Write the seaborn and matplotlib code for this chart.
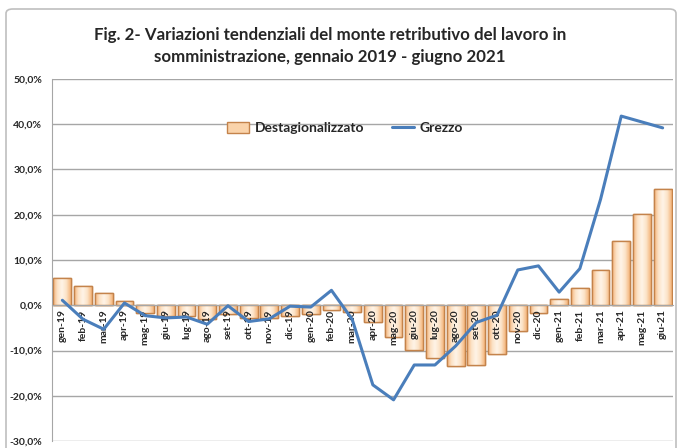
import matplotlib.pyplot as plt
import seaborn as sns
import pandas as pd
import numpy as np
from matplotlib.patches import Patch, FancyBboxPatch
from matplotlib.lines import Line2D
from matplotlib.ticker import FuncFormatter
from matplotlib.colors import LinearSegmentedColormap

months = ["gen-19", "feb-19", "mar-19", "apr-19", "mag-19", "giu-19", "lug-19", "ago-19",
          "set-19", "ott-19", "nov-19", "dic-19", "gen-20", "feb-20", "mar-20", "apr-20",
          "mag-20", "giu-20", "lug-20", "ago-20", "set-20", "ott-20", "nov-20", "dic-20",
          "gen-21", "feb-21", "mar-21", "apr-21", "mag-21", "giu-21"]
destag = [6.0, 4.3, 2.6, 0.9, -1.8, -2.3, -2.3, -3.0, -1.9, -2.8, -2.8, -2.3, -2.0, -1.0,
          -1.6, -3.8, -7.1, -9.8, -11.7, -13.5, -13.2, -10.8, -5.7, -1.8,
          1.3, 3.9, 7.9, 14.3, 20.1, 25.8]
grezzo = [1.1, -3.1, -5.3, 0.5, -2.3, -2.8, -2.6, -4.2, -0.1, -3.6, -3.0, -0.2, -0.4, 3.3,
          -3.1, -17.6, -20.9, -13.2, -13.2, -9.0, -3.8, -2.2, 7.8, 8.7,
          2.9, 8.1, 23.4, 41.8, 40.5, 39.2]
yticks = [50, 40, 30, 20, 10, 0, -10, -20, -30]

df = pd.DataFrame({"mese": months, "Destagionalizzato": destag, "Grezzo": grezzo})
df["pos"] = np.arange(len(df))

sns.set_style("white")
plt.rcParams["font.family"] = ["Lato", "DejaVu Sans"]

fig = plt.figure(figsize=(6.78, 4.48), dpi=100)
ax = fig.add_axes([52 / 678, 1 - 441 / 448, 621 / 678, 362 / 448])

bar_face = "#FAD3AA"
bar_edge = "#C4834B"
line_col = "#4A7EBB"
grid_col = "#A6A6A6"
grad = LinearSegmentedColormap.from_list("bar", ["#F4B47A", "#FCE3C8", "#FFF4E8", "#FCE3C8", "#F4B47A"])

sns.barplot(data=df, x="mese", y="Destagionalizzato", color=bar_face, width=0.86,
            edgecolor=bar_edge, linewidth=1.0, saturation=1, ax=ax, zorder=2)

# gradient fill inside each bar, like the Excel original
for bar in list(ax.patches):
    x0, y0 = bar.get_x(), bar.get_y()
    w, h = bar.get_width(), bar.get_height()
    img = ax.imshow(np.linspace(0, 1, 64).reshape(1, -1), cmap=grad, aspect="auto",
                    extent=[x0, x0 + w, min(y0, y0 + h), max(y0, y0 + h)], zorder=2.1,
                    interpolation="bilinear")
    img.set_clip_path(bar)
    ax.add_patch(plt.Rectangle((x0, y0), w, h, facecolor="none", edgecolor=bar_edge,
                               linewidth=1.0, zorder=2.2))

sns.lineplot(data=df, x="pos", y="Grezzo", color=line_col, linewidth=2.2, ax=ax, zorder=3)

ax.spines["top"].set_visible(False)
ax.spines["right"].set_visible(False)
ax.spines["bottom"].set_position(("data", 0))
ax.spines["bottom"].set_color(grid_col)
ax.spines["left"].set_color(grid_col)

ax.set_ylim(-30, 50)
ax.set_xlim(-0.5, len(months) - 0.5)
ax.set_yticks(yticks)
ax.yaxis.set_major_formatter(FuncFormatter(lambda v, p: f"{v:.1f}%".replace(".", ",")))
ax.set_xticks(df["pos"])
ax.set_xticklabels(months, rotation=90, fontsize=7.5, fontweight="bold")
ax.set_xticks(np.arange(-0.5, len(months), 1), minor=True)
ax.set_xlabel("")
ax.set_ylabel("")
for lab in ax.get_yticklabels():
    lab.set_fontweight("bold")
    lab.set_fontsize(7.5)

ax.grid(axis="y", color=grid_col, linewidth=1.0)
ax.set_axisbelow(True)
ax.xaxis.set_zorder(2.6)  # month labels over the bars, under the line
ax.tick_params(axis="x", which="major", length=0, pad=3)
ax.tick_params(axis="x", which="minor", length=4, color=grid_col, direction="out")
ax.tick_params(axis="y", length=4, color=grid_col, direction="out", pad=3)

handles = [Patch(facecolor=bar_face, edgecolor=bar_edge, label="Destagionalizzato"),
           Line2D([0], [0], color=line_col, linewidth=2.2, label="Grezzo")]
ax.legend(handles=handles, loc="center", bbox_to_anchor=(0.472, 0.865), ncol=2,
          frameon=False, prop={"weight": "bold", "size": 10}, handlelength=1.6,
          handleheight=0.9, columnspacing=2.0, handletextpad=0.4)

fig.text(330 / 678, 1 - 46 / 448,
         "Fig. 2- Variazioni tendenziali del monte retributivo del lavoro in\n"
         "somministrazione, gennaio 2019 - giugno 2021",
         ha="center", va="center", fontsize=12.2, fontweight="bold", linespacing=1.45)

fig.patches.append(FancyBboxPatch((6 / 678, -0.05), 670 / 678, 1.05 - 9 / 448,
                                  boxstyle="round,pad=0,rounding_size=0.01",
                                  transform=fig.transFigure, facecolor="none",
                                  edgecolor="#BFBFBF", linewidth=1.2))

fig.savefig("out.png", dpi=100)
